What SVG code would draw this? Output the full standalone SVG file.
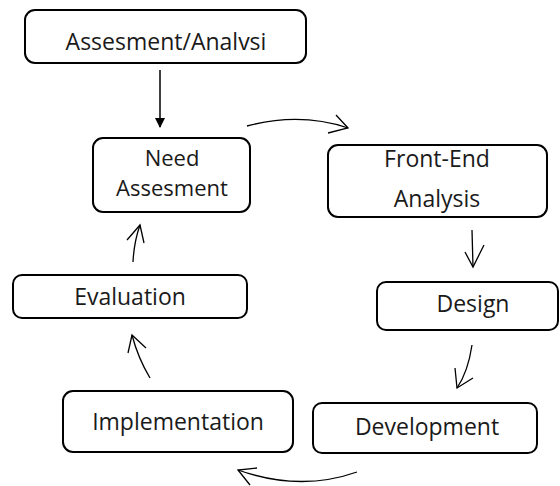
<svg xmlns="http://www.w3.org/2000/svg" width="560" height="486" viewBox="0 0 560 486">
<style>
.box{fill:#fff;stroke:#000;stroke-width:2}
.t{font-family:"Open Sans","Noto Sans",sans-serif;font-size:23px;fill:#1a1a1a;text-anchor:middle}
.s{font-size:22px}
.c{fill:none;stroke:#000;stroke-width:1.3}
</style>
<defs>
<marker id="tri" markerWidth="10" markerHeight="10" refX="9" refY="5" orient="auto" markerUnits="userSpaceOnUse" viewBox="0 0 10 10">
<path d="M0,0 L10,5 L0,10 Z" fill="#000"/>
</marker>
</defs>
<g id="n-assess">
<rect class="box" x="25" y="10" width="281" height="53" rx="10"/>
<text class="t" x="166" y="50">Assesment/Analvsi</text>
</g>
<g id="n-need">
<rect class="box" x="93" y="138" width="157" height="74" rx="10"/>
<text class="t s" x="172" y="166">Need</text>
<text class="t s" x="172" y="196">Assesment</text>
</g>
<g id="n-front">
<rect class="box" x="328" y="145" width="219" height="72" rx="10"/>
<text class="t" x="437" y="167">Front-End</text>
<text class="t" x="437" y="207">Analysis</text>
</g>
<g id="n-design">
<rect class="box" x="377" y="282" width="181" height="48" rx="9"/>
<text class="t" x="473" y="312">Design</text>
</g>
<g id="n-dev">
<rect class="box" x="313" y="403" width="224" height="50" rx="9"/>
<text class="t" x="427" y="435">Development</text>
</g>
<g id="n-impl">
<rect class="box" x="63" y="391" width="230" height="61" rx="10"/>
<text class="t" x="178" y="430">Implementation</text>
</g>
<g id="n-eval">
<rect class="box" x="13" y="275" width="234" height="43" rx="9"/>
<text class="t" x="130" y="305">Evaluation</text>
</g>
<g id="connectors">
<line x1="160" y1="70" x2="160" y2="127" stroke="#000" stroke-width="1.5" marker-end="url(#tri)"/>
<path class="c" d="M247,126 Q300,112 348,128"/>
<path class="c" d="M336,115 L348,128 L328,133"/>
<path class="c" d="M472,230 L473,267"/>
<path class="c" d="M465,252 L473,267 L484,245"/>
<path class="c" d="M472,345 Q468,372 457,388"/>
<path class="c" d="M455,368 L457,388 L473,378"/>
<path class="c" d="M357,472 Q300,492 238,470"/>
<path class="c" d="M257,468 L238,470 L250,485"/>
<path class="c" d="M150,378 Q138,358 132,335"/>
<path class="c" d="M128,353 L132,335 L146,348"/>
<path class="c" d="M133,262 Q134,242 140,225"/>
<path class="c" d="M127,240 L140,225 L144,243"/>
</g>
</svg>
